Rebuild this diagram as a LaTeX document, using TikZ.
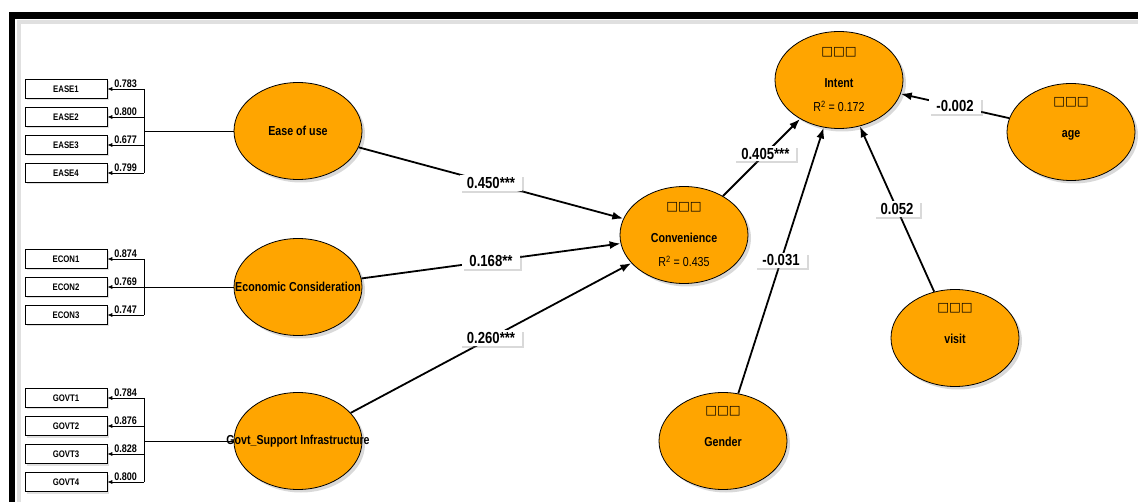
\documentclass[tikz,border=0pt]{standalone}
\usepackage{fontspec}
\setmainfont{Liberation Sans}[FakeStretch=0.82]
\newfontfamily\glyphfont{DejaVu Sans}
\usetikzlibrary{shapes.geometric,arrows.meta,shadows}
\definecolor{latentfill}{RGB}{255,165,0}
\newcommand{\boxrow}{{\glyphfont\fontsize{12.5}{13}\selectfont □□□}}

\begin{document}
\begin{tikzpicture}[x=1pt,y=-1pt]
\tikzset{latent/.style = {shape=ellipse,draw,fill=latentfill,line width=0.8pt,minimum width=128pt,minimum height=97pt,inner sep=0pt,align=center,font=\bfseries\fontsize{13}{15}\selectfont,drop shadow={opacity=0.3,shadow xshift=3pt,shadow yshift=-3pt}}}
\tikzset{item/.style = {shape=rectangle,draw,fill=white,line width=0.6pt,minimum width=82pt,minimum height=19pt,inner sep=0pt,font=\bfseries\fontsize{9.5}{11}\selectfont,drop shadow={opacity=0.25,shadow xshift=2pt,shadow yshift=-2pt}}}
\tikzset{edge/.style = {-{Latex[length=11pt,width=8pt]},line width=1.8pt}}
\tikzset{load/.style = {-{Latex[length=5pt,width=4pt]},line width=0.7pt}}
\tikzset{coef/.style = {fill=white,font=\bfseries\fontsize{16}{18}\selectfont,inner xsep=7pt,inner ysep=2pt,drop shadow={opacity=0.3,shadow xshift=2pt,shadow yshift=-2pt}}}
\tikzset{weight/.style = {above,inner sep=1.5pt,font=\bfseries\fontsize{11}{12}\selectfont}}
\useasboundingbox (0,0) rectangle (1138,502);
% frame
\draw[line width=4pt,black!12] (19,502) -- (19,22) -- (1138,22);
\draw[line width=6.5pt] (12,502) -- (12,15.5) -- (1138,15.5);
% constructs
\node[latent] (ease) at (298,131) {\makebox[0pt]{Ease of use}};
\node[latent] (econ) at (298,287) {\makebox[0pt]{Economic Consideration}};
\node[latent] (govt) at (298,441) {\makebox[0pt]{Govt\_Support Infrastructure}};
\node[latent] (conv)   at (684,235) {\boxrow\\[17pt]Convenience\\[9pt]{\mdseries R\textsuperscript{2} = 0.435}};
\node[latent] (intent) at (839,80)  {\boxrow\\[17pt]Intent\\[9pt]{\mdseries R\textsuperscript{2} = 0.172}};
\node[latent] (age)    at (1071,132) {\boxrow\\[17pt]age\\[9pt]\strut};
\node[latent] (visit)  at (955,338) {\boxrow\\[17pt]visit\\[9pt]\strut};
\node[latent] (gender) at (723,441) {\boxrow\\[17pt]Gender\\[9pt]\strut};
% indicators
\node[item] (ease1) at (66,89)  {EASE1};
\node[item] (ease2) at (66,117) {EASE2};
\node[item] (ease3) at (66,145) {EASE3};
\node[item] (ease4) at (66,173) {EASE4};
\node[item] (econ1) at (66,259) {ECON1};
\node[item] (econ2) at (66,287) {ECON2};
\node[item] (econ3) at (66,315) {ECON3};
\node[item] (govt1) at (66,398) {GOVT1};
\node[item] (govt2) at (66,426) {GOVT2};
\node[item] (govt3) at (66,454) {GOVT3};
\node[item] (govt4) at (66,482) {GOVT4};
\coordinate (ebus) at (144,131);
\coordinate (cbus) at (144,287);
\coordinate (gbus) at (144,441);
% loadings
\draw[line width=0.7pt] (ease) -- (ebus);
\draw[line width=0.7pt] (ebus |- ease1) -- (ebus |- ease4);
\draw[load] (ebus |- ease1) -- node[weight] {0.783} (ease1);
\draw[load] (ebus |- ease2) -- node[weight] {0.800} (ease2);
\draw[load] (ebus |- ease3) -- node[weight] {0.677} (ease3);
\draw[load] (ebus |- ease4) -- node[weight] {0.799} (ease4);
\draw[line width=0.7pt] (econ) -- (cbus);
\draw[line width=0.7pt] (cbus |- econ1) -- (cbus |- econ3);
\draw[load] (cbus |- econ1) -- node[weight] {0.874} (econ1);
\draw[load] (cbus |- econ2) -- node[weight] {0.769} (econ2);
\draw[load] (cbus |- econ3) -- node[weight] {0.747} (econ3);
\draw[line width=0.7pt] (govt) -- (gbus);
\draw[line width=0.7pt] (gbus |- govt1) -- (gbus |- govt4);
\draw[load] (gbus |- govt1) -- node[weight] {0.784} (govt1);
\draw[load] (gbus |- govt2) -- node[weight] {0.876} (govt2);
\draw[load] (gbus |- govt3) -- node[weight] {0.828} (govt3);
\draw[load] (gbus |- govt4) -- node[weight] {0.800} (govt4);
% paths
\draw[edge] (ease) -- node[coef] {0.450***} (conv);
\draw[edge] (econ) -- node[coef] {0.168**} (conv);
\draw[edge] (govt) -- node[coef] {0.260***} (conv);
\draw[edge] (conv) -- node[coef,pos=0.55] {0.405***} (intent);
\draw[edge] (gender) -- node[coef] {-0.031} (intent);
\draw[edge] (visit) -- node[coef] {0.052} (intent);
\draw[edge] (age) -- node[coef] {-0.002} (intent);
\end{tikzpicture}
\end{document}
